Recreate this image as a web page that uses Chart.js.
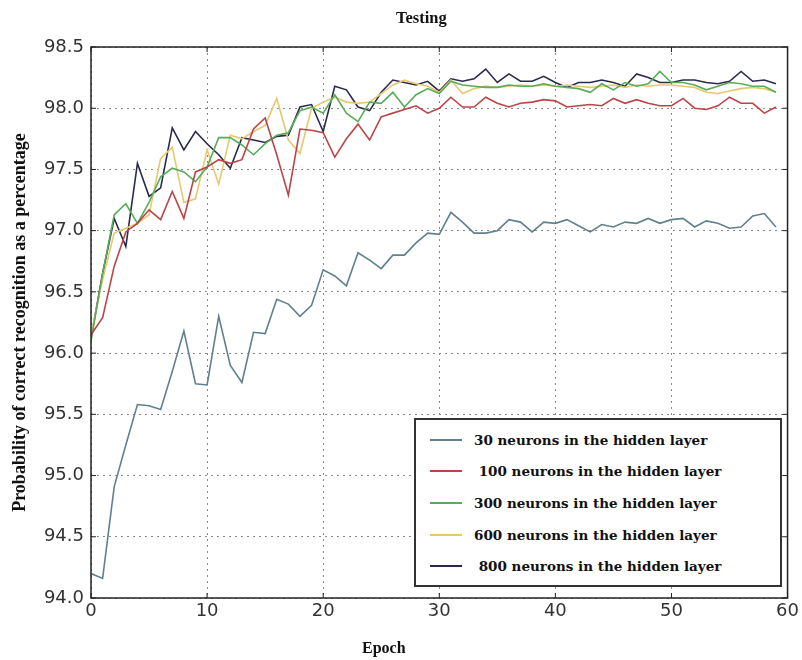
<!DOCTYPE html>
<html>
<head>
<meta charset="utf-8">
<script src="https://cdn.jsdelivr.net/npm/chart.js@4/dist/chart.umd.min.js"></script>
<style>
  html, body { margin: 0; padding: 0; background: #fff; }
  #wrap { position: relative; width: 802px; height: 660px; }
  #c { position: absolute; left: 0; top: 0; }
  .ovl { position: absolute; font-family: "Liberation Serif", "Times New Roman", serif; font-weight: bold; color: #111; white-space: pre; line-height: 1; }
  #title { left: 396px; top: 10px; font-size: 16.5px; }
  #xlab { left: 362px; top: 640px; font-size: 16px; }
  #legend { position: absolute; left: 414px; top: 418px; width: 364px; height: 165px; border: 2px solid #333; background: #fff; box-sizing: content-box; }
  .item { position: absolute; left: 14px; height: 20px; display: flex; align-items: center; }
  .swatch { width: 32px; height: 0; border-top: 2px solid; margin-right: 12px; }
  .item span { font-family: "DejaVu Serif", serif; font-weight: bold; font-size: 13.5px; color: #111; white-space: pre; }
</style>
</head>
<body>
<div id="wrap">
  <canvas id="c" width="802" height="660"></canvas>
  <div class="ovl" id="title">Testing</div>
  <div class="ovl" id="xlab">Epoch</div>
  <div id="legend"></div>
</div>
<script>
const epochs = Array.from({length: 60}, (_, i) => i);

const seriesNames = [
  "30 neurons in the hidden layer",
  " 100 neurons in the hidden layer",
  "300 neurons in the hidden layer",
  "600 neurons in the hidden layer",
  " 800 neurons in the hidden layer"
];
const seriesColors = ["#60808f", "#bb4448", "#5aab5a", "#e8c770", "#2a2a4a"];

const n30 = [94.20, 94.16, 94.91, 95.25, 95.58, 95.57, 95.54, 95.85, 96.18, 95.75,
             95.74, 96.30, 95.90, 95.76, 96.17, 96.16, 96.44, 96.40, 96.30, 96.39,
             96.68, 96.63, 96.55, 96.82, 96.76, 96.69, 96.80, 96.80, 96.90, 96.98,
             96.97, 97.15, 97.07, 96.98, 96.98, 97.00, 97.09, 97.07, 96.99, 97.07,
             97.06, 97.09, 97.04, 96.99, 97.05, 97.03, 97.07, 97.06, 97.10, 97.06,
             97.09, 97.10, 97.03, 97.08, 97.06, 97.02, 97.03, 97.12, 97.14, 97.03];

const n100 = [96.15, 96.29, 96.71, 96.99, 97.06, 97.17, 97.09, 97.32, 97.10, 97.48,
              97.52, 97.58, 97.55, 97.58, 97.83, 97.92, 97.62, 97.29, 97.83, 97.82,
              97.80, 97.60, 97.75, 97.87, 97.74, 97.93, 97.96, 97.99, 98.02, 97.96,
              98.00, 98.09, 98.01, 98.01, 98.09, 98.04, 98.01, 98.04, 98.05, 98.07,
              98.06, 98.01, 98.02, 98.03, 98.02, 98.08, 98.04, 98.07, 98.04, 98.02,
              98.02, 98.08, 98.00, 97.99, 98.02, 98.09, 98.04, 98.04, 97.96, 98.01];

const n300 = [96.10, 96.65, 97.13, 97.22, 97.06, 97.23, 97.44, 97.51, 97.48, 97.40,
              97.52, 97.76, 97.76, 97.70, 97.62, 97.71, 97.78, 97.80, 97.98, 98.01,
              97.96, 98.11, 97.96, 97.89, 98.05, 98.04, 98.13, 98.01, 98.11, 98.16,
              98.12, 98.22, 98.19, 98.18, 98.17, 98.17, 98.19, 98.18, 98.18, 98.20,
              98.18, 98.17, 98.16, 98.13, 98.20, 98.15, 98.21, 98.18, 98.20, 98.30,
              98.21, 98.21, 98.19, 98.15, 98.18, 98.21, 98.20, 98.18, 98.18, 98.13];

const n600 = [96.15, 96.60, 96.98, 97.02, 97.06, 97.13, 97.59, 97.68, 97.23, 97.26,
              97.66, 97.38, 97.78, 97.75, 97.81, 97.86, 98.08, 97.74, 97.63, 98.00,
              98.05, 98.09, 98.05, 98.04, 98.05, 98.12, 98.19, 98.23, 98.20, 98.18,
              98.13, 98.23, 98.12, 98.16, 98.18, 98.17, 98.18, 98.19, 98.18, 98.19,
              98.18, 98.19, 98.18, 98.17, 98.18, 98.19, 98.17, 98.19, 98.18, 98.19,
              98.19, 98.18, 98.17, 98.13, 98.12, 98.14, 98.16, 98.17, 98.16, 98.13];

const n800 = [96.12, 96.65, 97.10, 96.87, 97.55, 97.28, 97.35, 97.84, 97.66, 97.81,
              97.71, 97.62, 97.51, 97.76, 97.74, 97.72, 97.77, 97.78, 98.01, 98.03,
              97.81, 98.18, 98.15, 98.01, 97.98, 98.13, 98.23, 98.21, 98.19, 98.22,
              98.14, 98.24, 98.22, 98.24, 98.32, 98.21, 98.28, 98.22, 98.22, 98.26,
              98.21, 98.17, 98.21, 98.21, 98.23, 98.21, 98.18, 98.28, 98.25, 98.21,
              98.21, 98.23, 98.23, 98.21, 98.20, 98.22, 98.30, 98.22, 98.23, 98.20];

const seriesValues = [n30, n100, n300, n600, n800];

const yTicks = [94.0, 94.5, 95.0, 95.5, 96.0, 96.5, 97.0, 97.5, 98.0, 98.5];
const xTicks = [0, 10, 20, 30, 40, 50, 60];

const datasets = seriesValues.map((vals, k) => ({
  label: seriesNames[k].trim(),
  data: vals.map((v, i) => ({ x: epochs[i], y: v })),
  borderColor: seriesColors[k],
  backgroundColor: seriesColors[k],
  borderWidth: 1.6,
  pointRadius: 0,
  tension: 0,
  fill: false
}));

const frame = {
  id: 'frame',
  afterDraw(chart) {
    const { ctx, chartArea: a } = chart;
    ctx.save();
    ctx.strokeStyle = '#222';
    ctx.lineWidth = 1.5;
    ctx.strokeRect(a.left, a.top, a.right - a.left, a.bottom - a.top);
    ctx.lineWidth = 1;
    const xs = chart.scales.x, ys = chart.scales.y;
    xTicks.forEach(t => {
      const px = xs.getPixelForValue(t);
      ctx.beginPath(); ctx.moveTo(px, a.bottom); ctx.lineTo(px, a.bottom - 5); ctx.stroke();
      ctx.beginPath(); ctx.moveTo(px, a.top); ctx.lineTo(px, a.top + 5); ctx.stroke();
    });
    yTicks.forEach(t => {
      const py = ys.getPixelForValue(t);
      ctx.beginPath(); ctx.moveTo(a.left, py); ctx.lineTo(a.left + 5, py); ctx.stroke();
      ctx.beginPath(); ctx.moveTo(a.right, py); ctx.lineTo(a.right - 5, py); ctx.stroke();
    });
    ctx.restore();
  }
};

new Chart(document.getElementById('c'), {
  type: 'line',
  data: { datasets },
  options: {
    responsive: false,
    animation: false,
    layout: { padding: { top: 47, right: 11, left: 0, bottom: 0 } },
    plugins: {
      legend: { display: false },
      title: { display: false },
      tooltip: { enabled: false }
    },
    scales: {
      x: {
        type: 'linear',
        min: 0, max: 60,
        afterBuildTicks: s => { s.ticks = xTicks.map(v => ({ value: v })); },
        ticks: { color: '#333', font: { family: 'DejaVu Sans', size: 18 }, padding: 3 },
        grid: { color: '#8a8a8a', lineWidth: 1, drawTicks: false },
        border: { display: false, dash: [2, 4] },
        afterFit: s => { s.height = 62; }
      },
      y: {
        min: 94.0, max: 98.5,
        afterBuildTicks: s => { s.ticks = yTicks.map(v => ({ value: v })); },
        ticks: { color: '#333', font: { family: 'DejaVu Sans', size: 18 }, padding: 7,
                 callback: v => Number(v).toFixed(1) },
        grid: { color: '#8a8a8a', lineWidth: 1, drawTicks: false },
        border: { display: false, dash: [2, 4] },
        title: { display: true, text: 'Probability of correct recognition as a percentage',
                 color: '#111', font: { family: 'Liberation Serif', size: 18, weight: 'bold' }, padding: { top: 10, bottom: 0 } },
        afterFit: s => { s.width = 91; }
      }
    }
  },
  plugins: [frame]
});

const lg = document.getElementById('legend');
const rowTops = [10, 41, 73, 105, 136];
seriesNames.forEach((name, k) => {
  const d = document.createElement('div');
  d.className = 'item';
  d.style.top = rowTops[k] + 'px';
  const sw = document.createElement('div');
  sw.className = 'swatch';
  sw.style.borderTopColor = seriesColors[k];
  const sp = document.createElement('span');
  sp.textContent = name;
  d.appendChild(sw); d.appendChild(sp);
  lg.appendChild(d);
});
</script>
</body>
</html>
